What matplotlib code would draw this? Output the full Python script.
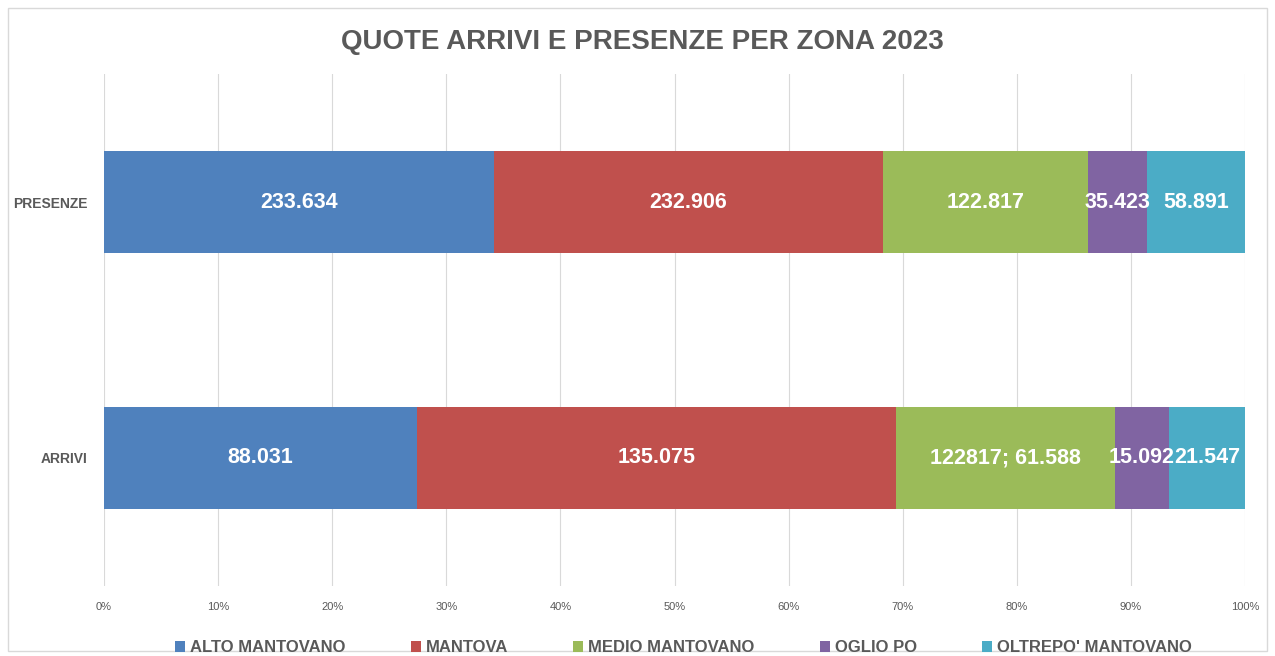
import matplotlib.pyplot as plt
from matplotlib.patches import Rectangle

# dati
categorie = ['ARRIVI', 'PRESENZE']
zone = ['ALTO MANTOVANO', 'MANTOVA', 'MEDIO MANTOVANO', 'OGLIO PO', "OLTREPO' MANTOVANO"]
arrivi = [88031, 135075, 61588, 15092, 21547]
presenze = [233634, 232906, 122817, 35423, 58891]
etichette_arrivi = ['88.031', '135.075', '122817; 61.588', '15.092', '21.547']
etichette_presenze = ['233.634', '232.906', '122.817', '35.423', '58.891']
colori = ['#4F81BD', '#C0504D', '#9BBB59', '#8064A2', '#4BACC6']

font = ['Liberation Sans Narrow', 'Liberation Sans', 'DejaVu Sans']
grigio = '#595959'

fig = plt.figure(figsize=(12.75, 6.56), dpi=100)
ax = fig.add_axes([0.0816, 0.107, 0.895, 0.78])

# bordo esterno del grafico
fig.patches.append(Rectangle((0.006, 0.008), 0.988, 0.98, transform=fig.transFigure,
                             fill=False, edgecolor='#D9D9D9', linewidth=1))

valori = [arrivi, presenze]
etichette = [etichette_arrivi, etichette_presenze]
for i, (riga, et) in enumerate(zip(valori, etichette)):
    totale = sum(riga)
    sinistra = 0
    for j, v in enumerate(riga):
        quota = v / totale
        ax.barh(i, quota, left=sinistra, height=0.4, color=colori[j],
                label=zone[j] if i == 0 else None)
        ax.text(sinistra + quota / 2, i, et[j], ha='center', va='center',
                color='white', fontsize=15.5, fontweight='bold', family=font)
        sinistra += quota

ax.set_xlim(0, 1)
ax.set_ylim(-0.5, 1.5)
ax.set_xticks([k / 10 for k in range(11)])
ax.set_xticklabels([f'{k * 10}%' for k in range(11)], family=font, fontsize=8, color=grigio)
ax.set_yticks([0, 1])
ax.set_yticklabels(categorie, family=font, fontsize=10, fontweight='bold', color=grigio)
ax.tick_params(length=0, pad=12)
ax.tick_params(axis='x', pad=12)
for s in ax.spines.values():
    s.set_visible(False)
ax.grid(axis='x', color='#D9D9D9', linewidth=0.8)
ax.set_axisbelow(True)

fig.suptitle('QUOTE ARRIVI E PRESENZE PER ZONA 2023', x=0.504, y=0.956, fontsize=20,
             fontweight='bold', color=grigio, family=font)

leg = fig.legend(loc='lower center', bbox_to_anchor=(0.536, -0.022), ncol=5, frameon=False,
                 handlelength=0.6, handleheight=0.6, handletextpad=0.3, columnspacing=3.9,
                 prop={'family': font, 'size': 12, 'weight': 'bold'})
for t in leg.get_texts():
    t.set_color(grigio)

fig.savefig('out.png', dpi=100)
